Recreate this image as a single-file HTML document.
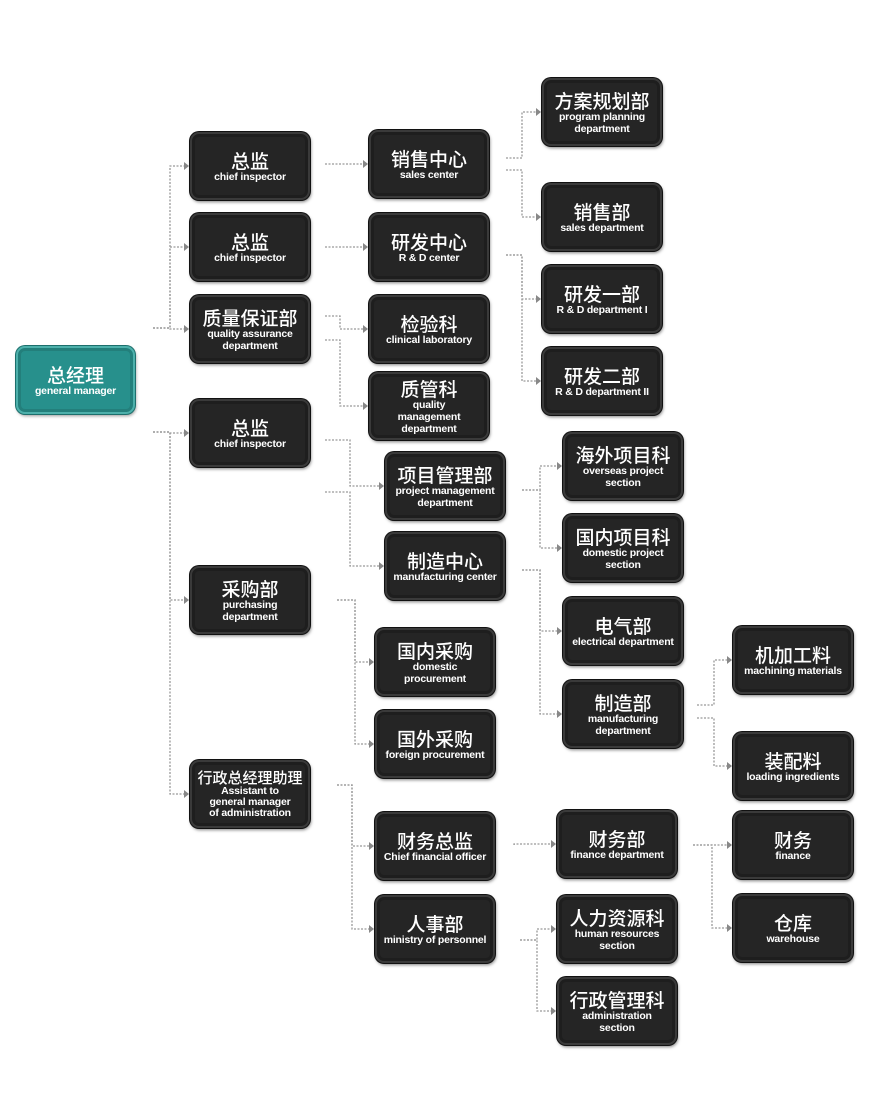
<!DOCTYPE html>
<html><head><meta charset="utf-8"><style>
body{margin:0;width:877px;height:1117px;background:#fff;position:relative;overflow:hidden;font-family:"Liberation Sans","Noto Sans CJK SC",sans-serif}
.b{position:absolute;box-sizing:border-box;border-radius:9px;background:#252525;border:2px solid #3a3a3a;box-shadow:0 0 0 1px #111,1px 2px 3px rgba(0,0,0,.5),inset 0 0 0 3px #1e1e1e;color:#fff;text-align:center;display:flex;flex-direction:column;justify-content:center;align-items:center}
.b.t{background:#27908c;border-color:#4db0ab;box-shadow:0 0 0 1px #1d6f6c,1px 2px 3px rgba(0,0,0,.4),inset 0 0 0 3px #237f7b}
.c{font-family:"Noto Sans CJK SC",sans-serif;font-size:19px;font-weight:500;line-height:21px;white-space:nowrap}
.e{font-size:10.5px;line-height:12px;font-weight:bold;letter-spacing:-.2px}
.sm .c{font-size:15px;line-height:17px}
.sm .e{line-height:11px}
svg{position:absolute;left:0;top:0}
</style></head><body>
<svg width="877" height="1117" id="s"></svg>
<div id="w"></div>
<script>
var B=[
["r",16,346,119,68,"总经理","general manager",1],
["a1",190,132,120,68,"总监","chief inspector"],
["a2",190,213,120,68,"总监","chief inspector"],
["a3",190,295,120,68,"质量保证部","quality assurance<br>department"],
["a4",190,399,120,68,"总监","chief inspector"],
["a5",190,566,120,68,"采购部","purchasing<br>department"],
["a6",190,760,120,68,"行政总经理助理","Assistant to<br>general manager<br>of administration",0,1],
["b1",369,130,120,68,"销售中心","sales center"],
["b2",369,213,120,68,"研发中心","R &amp; D center"],
["b3",369,295,120,68,"检验科","clinical laboratory"],
["b4",369,372,120,68,"质管科","quality<br>management<br>department"],
["b5",385,452,120,68,"项目管理部","project management<br>department"],
["b6",385,532,120,68,"制造中心","manufacturing center"],
["b7",375,628,120,68,"国内采购","domestic<br>procurement"],
["b8",375,710,120,68,"国外采购","foreign procurement"],
["b9",375,812,120,68,"财务总监","Chief financial officer"],
["b10",375,895,120,68,"人事部","ministry of personnel"],
["c1",542,78,120,68,"方案规划部","program planning<br>department"],
["c2",542,183,120,68,"销售部","sales department"],
["c3",542,265,120,68,"研发一部","R &amp; D department I"],
["c4",542,347,120,68,"研发二部","R &amp; D department II"],
["c5",563,432,120,68,"海外项目科","overseas project<br>section"],
["c6",563,514,120,68,"国内项目科","domestic project<br>section"],
["c7",563,597,120,68,"电气部","electrical department"],
["c8",563,680,120,68,"制造部","manufacturing<br>department"],
["c9",557,810,120,68,"财务部","finance department"],
["c10",557,895,120,68,"人力资源科","human resources<br>section"],
["c11",557,977,120,68,"行政管理科","administration<br>section"],
["d1",733,626,120,68,"机加工料","machining materials"],
["d2",733,732,120,68,"装配料","loading ingredients"],
["d3",733,811,120,68,"财务","finance"],
["d4",733,894,120,68,"仓库","warehouse"]];
var M={},h="";
B.forEach(function(b){M[b[0]]=b;h+='<div class="b'+(b[7]?' t':'')+(b[8]?' sm':'')+'" style="left:'+b[1]+'px;top:'+b[2]+'px;width:'+b[3]+'px;height:'+b[4]+'px"><div class="c">'+b[5]+'</div><div class="e">'+b[6]+'</div></div>';});
document.getElementById('w').innerHTML=h;
var s="";
function arrow(x,y){s+='<polygon points="'+(x-5)+','+(y-4)+' '+x+','+y+' '+(x-5)+','+(y+4)+'" fill="#888"/>';}
function L(p){s+='<polyline points="'+p+'" fill="none" stroke="#999" stroke-width="1.3" stroke-dasharray="2,1.5"/>';}
function con(pid,kids,sx,mx,sy){var p=M[pid];kids.forEach(function(k,i){var c=M[k];var cy=c[2]+c[4]/2;var y0=sy!==undefined?(Array.isArray(sy)?sy[i]:sy):p[2]+p[4]/2;var ex=c[1]-3;
if(y0==cy)L(sx+','+y0+' '+ex+','+cy);else L(sx+','+y0+' '+mx+','+y0+' '+mx+','+cy+' '+ex+','+cy);arrow(ex+2,cy);});}
con("r",["a1","a2","a3"],153,170,328);
con("r",["a4","a5","a6"],153,170,432);
con("a1",["b1"],325,345,164);
con("a2",["b2"],325,345,247);
con("a3",["b3","b4"],325,340,[316,340]);
con("a4",["b5","b6"],325,350,[440,492]);
con("b1",["c1","c2"],506,522,[158,170]);
con("b2",["c3","c4"],506,522,255);
con("b5",["c5","c6"],522,540,490);
con("b6",["c7","c8"],522,540,570);
con("a5",["b7","b8"],337,355,600);
con("a6",["b9","b10"],337,352,785);
con("b9",["c9"],514,514,845);
con("b10",["c10","c11"],520,537,940);
con("c8",["d1","d2"],697,714,[705,718]);
con("c9",["d3","d4"],693,712,845);
document.getElementById('s').innerHTML=s;
</script>
</body></html>
